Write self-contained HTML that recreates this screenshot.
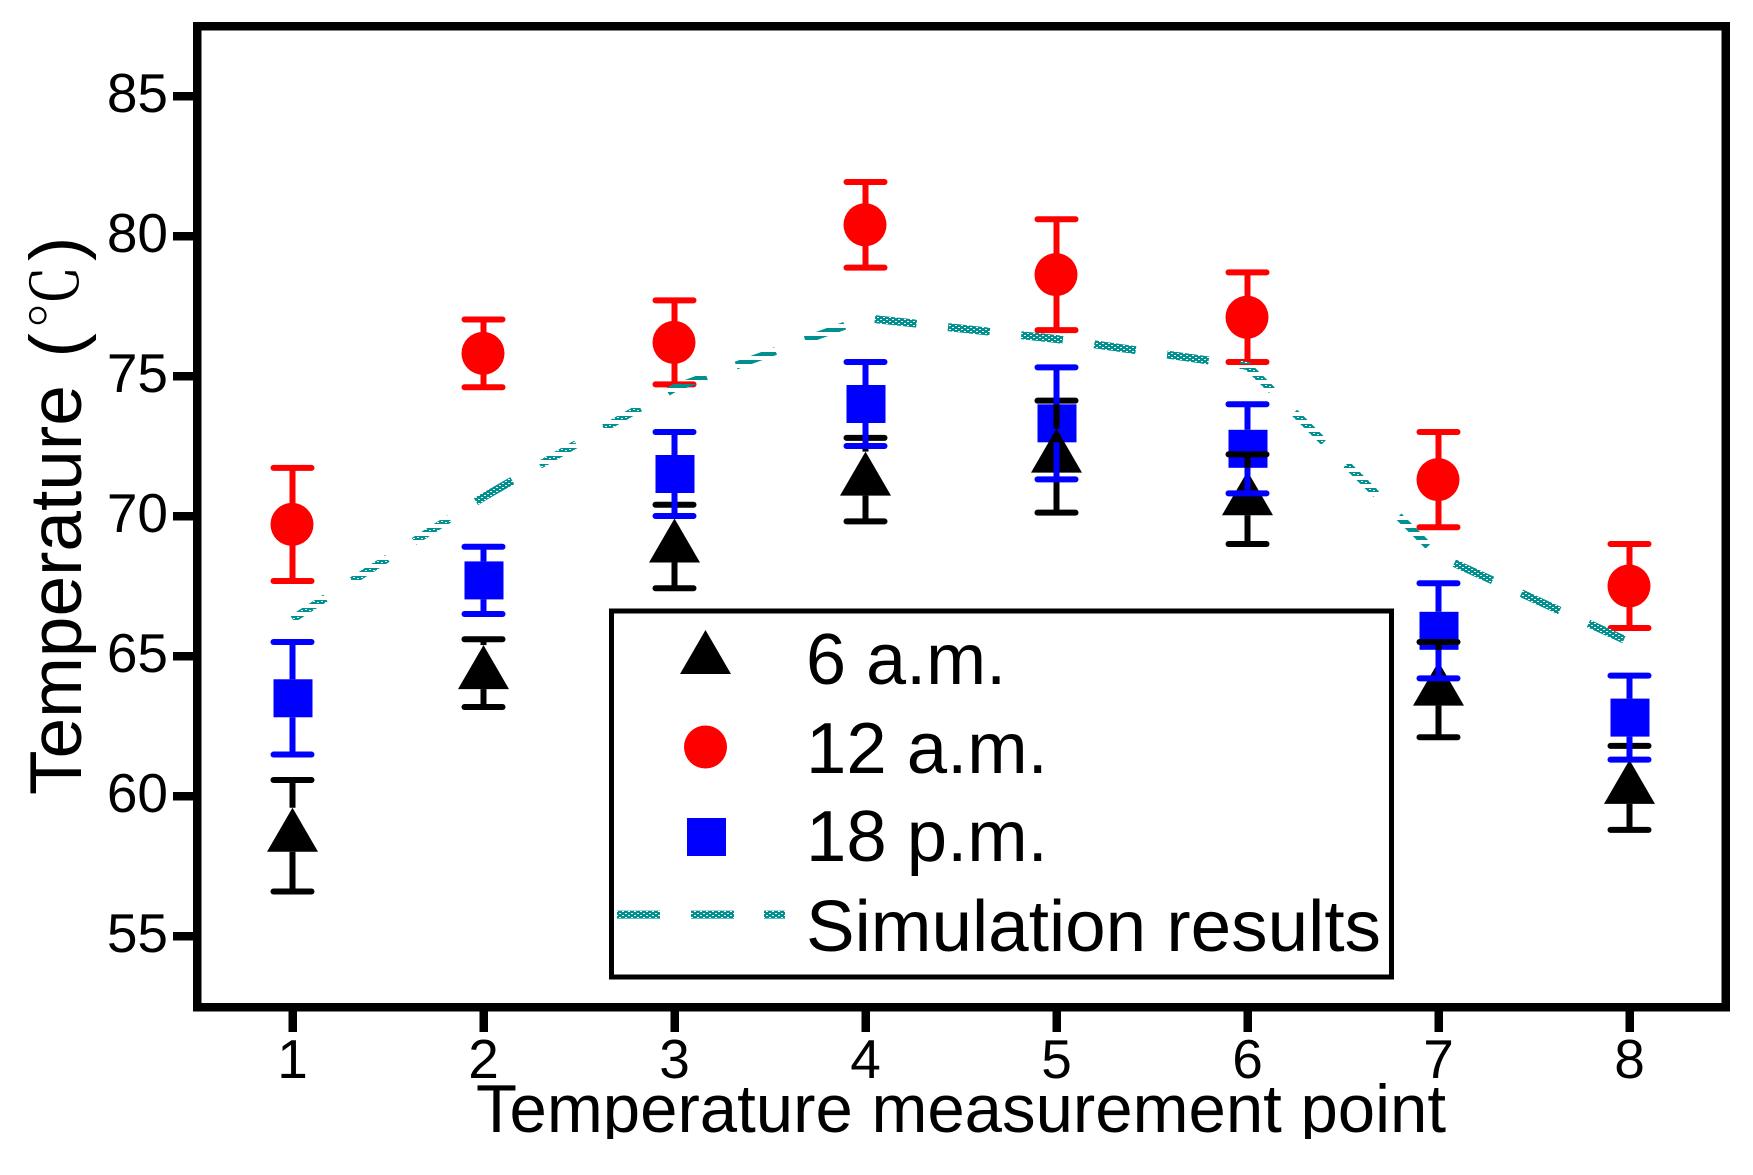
<!DOCTYPE html>
<html>
<head>
<meta charset="utf-8">
<title>Temperature chart</title>
<style>
html,body{margin:0;padding:0;background:#fff;}
svg{display:block;}
text{font-family:"Liberation Sans",sans-serif;fill:#000;}
</style>
</head>
<body>
<svg id="chart" xmlns="http://www.w3.org/2000/svg" width="1753" height="1175" viewBox="0 0 1753 1175">
  <defs>
    <pattern id="hatch-dense" patternUnits="userSpaceOnUse" width="6" height="4">
      <rect width="6" height="4" fill="#009090"/>
      <rect x="1" y="1" width="2" height="1" fill="#fff"/>
      <rect x="4" y="3" width="2" height="1" fill="#fff"/>
    </pattern>
    <pattern id="hatch-rows" patternUnits="userSpaceOnUse" width="8" height="8">
      <rect width="8" height="4" fill="#009090"/>
    </pattern>
    <pattern id="hatch-speck" patternUnits="userSpaceOnUse" width="8" height="8">
      <rect width="8" height="4" fill="#009090"/>
      <rect x="1" y="1" width="2" height="1" fill="#fff"/>
      <rect x="5" y="2" width="2" height="1" fill="#fff"/>
    </pattern>
    <clipPath id="x-title-clip">
      <rect x="400" y="1070" width="1100" height="69"/>
    </clipPath>
  </defs>
  <rect x="0" y="0" width="1753" height="1175" fill="#fff"/>
  <g id="ticks"></g>
  <g id="marks"></g>
  <rect x="197" y="26" width="1528.5" height="981" fill="none" stroke="#000" stroke-width="8.5" shape-rendering="crispEdges"/>

  <text transform="translate(81,795) rotate(-90)" font-size="73">Temperature <tspan x="437.5">(</tspan><tspan x="466" dy="-3" font-size="64" style="font-family:'Noto Serif CJK SC',serif">℃</tspan><tspan x="534" dy="3">)</tspan></text>
  <text x="476" y="1132" font-size="68" textLength="970" lengthAdjust="spacingAndGlyphs" clip-path="url(#x-title-clip)">Temperature measurement point</text>

  <g>
    <rect x="611.5" y="611" width="780" height="366" fill="#fff" stroke="#000" stroke-width="5" shape-rendering="crispEdges"/>
    <polygon points="705.5,630 731,674 680,674" fill="#000"/>
    <text x="806" y="684" font-size="72">6 a.m.</text>
    <circle cx="705.5" cy="747" r="21.5" fill="#f00"/>
    <text x="806" y="773" font-size="72.5">12 a.m.</text>
    <rect x="687" y="818" width="39" height="38" fill="#00f"/>
    <text x="806" y="861" font-size="72.5">18 p.m.</text>
    <g stroke="url(#hatch-dense)" stroke-width="8">
      <line x1="617" y1="914.6" x2="660" y2="914.6"/>
      <line x1="691" y1="914.6" x2="734" y2="914.6"/>
      <line x1="764" y1="914.6" x2="785" y2="914.6"/>
    </g>
    <text x="806" y="951" font-size="72.5" textLength="575" lengthAdjust="spacingAndGlyphs">Simulation results</text>
  </g>
</svg>
<script>
const categories = [1, 2, 3, 4, 5, 6, 7, 8];
const yTickLabels = [55, 60, 65, 70, 75, 80, 85];
const mean6am = [58.58, 64.39, 68.91, 71.30, 72.12, 70.60, 63.80, 60.29];
const err6am = [1.99, 1.21, 1.49, 1.49, 2.00, 1.60, 1.70, 1.50];
const mean12am = [69.70, 75.81, 76.20, 80.40, 78.62, 77.10, 71.30, 67.50];
const err12am = [2.02, 1.21, 1.50, 1.53, 1.98, 1.60, 1.70, 1.50];
const mean18pm = [63.49, 67.70, 71.50, 74.00, 73.31, 72.40, 65.90, 62.80];
const err18pm = [2.01, 1.20, 1.50, 1.50, 2.00, 1.59, 1.70, 1.50];
const simulation = [66.32, 70.68, 74.57, 77.07, 76.32, 75.36, 68.57, 65.50];

const SVG_NS = 'http://www.w3.org/2000/svg';
const ticksLayer = document.getElementById('ticks');
const marksLayer = document.getElementById('marks');

function xScale(p) { return 292.5 + (p - 1) * 191; }
function yScale(v) { return 96 + (85 - v) * 28; }

function make(parent, tag, attrs) {
  const node = document.createElementNS(SVG_NS, tag);
  for (const key in attrs) node.setAttribute(key, attrs[key]);
  parent.appendChild(node);
  return node;
}

yTickLabels.forEach(function (v) {
  const tick = make(ticksLayer, 'line', {x1: 173, x2: 197, y1: yScale(v), y2: yScale(v), stroke: '#000', 'stroke-width': 8.5, 'shape-rendering': 'crispEdges'});
  
  
  const label = make(ticksLayer, 'text', {x: 168, y: yScale(v) + 16, 'font-size': 55, 'text-anchor': 'end'});
  label.textContent = String(v);
  
  
});

categories.forEach(function (p) {
  const tick = make(ticksLayer, 'line', {x1: xScale(p), x2: xScale(p), y1: 1007, y2: 1032, stroke: '#000', 'stroke-width': 8.5, 'shape-rendering': 'crispEdges'});
  
  
  const label = make(ticksLayer, 'text', {x: xScale(p), y: 1078, 'font-size': 55, 'text-anchor': 'middle'});
  label.textContent = String(p);
  
  
});

const CAP_HALF = 19;
function drawErrorBars(seriesName, color, means, errs, aboveGap, belowGap) {
  categories.forEach(function (p, i) {
    const x = xScale(p);
    const cy = yScale(means[i]);
    const top = yScale(means[i] + errs[i]);
    const low = yScale(means[i] - errs[i]);
    const g = make(marksLayer, 'g', {stroke: color, 'stroke-width': 6, fill: 'none'});
    
    
    make(g, 'line', {x1: x, x2: x, y1: top, y2: cy - aboveGap});
    make(g, 'line', {x1: x, x2: x, y1: cy + belowGap, y2: low});
    make(g, 'line', {x1: x - CAP_HALF, x2: x + CAP_HALF, y1: top, y2: top, 'stroke-linecap': 'round'});
    make(g, 'line', {x1: x - CAP_HALF, x2: x + CAP_HALF, y1: low, y2: low, 'stroke-linecap': 'round'});
  });
}

// red series
drawErrorBars('12am', '#f00', mean12am, err12am, 15, 15);
categories.forEach(function (p, i) {
  const dot = make(marksLayer, 'circle', {cx: xScale(p) - 0.5, cy: yScale(mean12am[i]), r: 21.5, fill: '#f00'});
  
  
});

// blue markers sit under the black series, blue bars sit above it
categories.forEach(function (p, i) {
  const box = make(marksLayer, 'rect', {x: xScale(p) - 19, y: yScale(mean18pm[i]) - 19, width: 39, height: 38, fill: '#00f'});
  
  
});

drawErrorBars('6am', '#000', mean6am, err6am, 28, 16);
categories.forEach(function (p, i) {
  const x = xScale(p);
  const cy = yScale(mean6am[i]);
  const tri = make(marksLayer, 'polygon', {points: x + ',' + (cy - 28) + ' ' + (x + 25.5) + ',' + (cy + 16) + ' ' + (x - 25.5) + ',' + (cy + 16), fill: '#000'});
  
  
});

drawErrorBars('18pm', '#00f', mean18pm, err18pm, 19, 19);

// simulation line: dashes walked along the polyline through the axis functions
const DASH = 42;
const PERIOD = 73.6;
const PHASE = 3;
const ROW_DASHES = [6, 7, 8, 17];
const SPECK_DASHES = [0, 1, 2, 4, 5, 14, 15, 16];

const simPts = categories.map(function (p, i) { return [xScale(p), yScale(simulation[i])]; });
const cum = [0];
for (let i = 1; i < simPts.length; i++) {
  cum.push(cum[i - 1] + Math.hypot(simPts[i][0] - simPts[i - 1][0], simPts[i][1] - simPts[i - 1][1]));
}
function pointAt(s) {
  let i = 1;
  while (i < simPts.length - 1 && cum[i] < s) i++;
  const t = (s - cum[i - 1]) / (cum[i] - cum[i - 1]);
  return [simPts[i - 1][0] + t * (simPts[i][0] - simPts[i - 1][0]), simPts[i - 1][1] + t * (simPts[i][1] - simPts[i - 1][1])];
}
const simGroup = make(marksLayer, 'g', {fill: 'none', 'stroke-width': 8});


const totalLen = cum[cum.length - 1];
for (let k = 0; PERIOD * k - PHASE < totalLen; k++) {
  const s0 = Math.max(0, PERIOD * k - PHASE);
  const s1 = Math.min(totalLen - 6, PERIOD * k - PHASE + DASH);
  const pts = [pointAt(s0)];
  cum.forEach(function (c, i) { if (c > s0 && c < s1) pts.push(simPts[i]); });
  pts.push(pointAt(s1));
  let hatch = 'hatch-dense';
  if (ROW_DASHES.indexOf(k) >= 0) hatch = 'hatch-rows';
  if (SPECK_DASHES.indexOf(k) >= 0) hatch = 'hatch-speck';
  const dash = make(simGroup, 'polyline', {points: pts.map(function (q) { return q[0].toFixed(1) + ',' + q[1].toFixed(1); }).join(' '), stroke: 'url(#' + hatch + ')'});
  
  
}
</script>
</body>
</html>
